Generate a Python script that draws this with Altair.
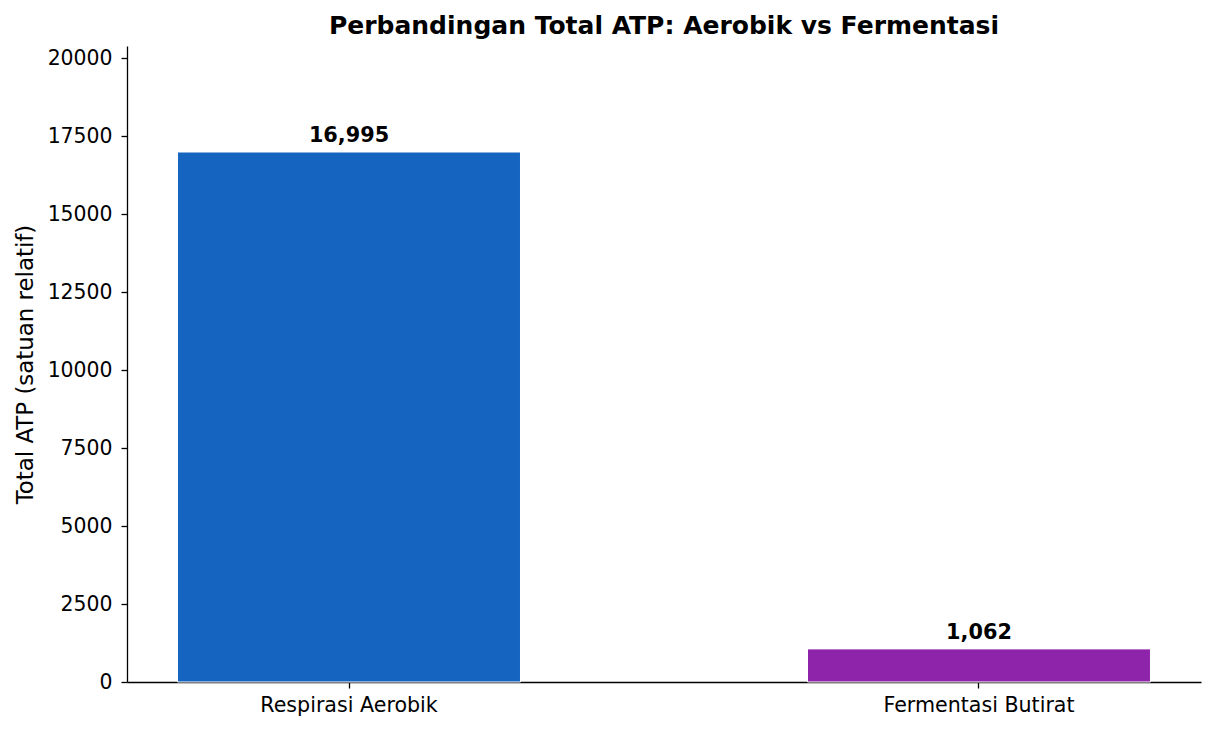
import altair as alt
import pandas as pd

categories = ["Respirasi Aerobik", "Fermentasi Butirat"]
values = [16995, 1062]
colors = ["#1565C0", "#8E24AA"]
y_ticks = [0, 2500, 5000, 7500, 10000, 12500, 15000, 17500, 20000]

df = pd.DataFrame({"cat": categories, "val": values, "color": colors})

FONT = "DejaVu Sans"

x_enc = alt.X(
    "cat:N",
    sort=categories,
    title=None,
    scale=alt.Scale(paddingInner=0.4556, paddingOuter=0.0802),
    axis=alt.Axis(labelAngle=0, labelFontSize=20.6, labelFont=FONT, labelColor="black",
                  labelLimit=0,
                  domainColor="black", domainWidth=1.3, tickColor="black", tickWidth=1.3,
                  tickSize=6, labelPadding=7),
)
y_enc = alt.Y(
    "val:Q",
    title="Total ATP (satuan relatif)",
    scale=alt.Scale(domain=[0, 20394], nice=False, zero=True),
    axis=alt.Axis(values=y_ticks, format="d", labelFontSize=20.4, labelFont=FONT,
                  labelColor="black", titleFontSize=22.9, titleFont=FONT, titleFontWeight="normal",
                  titleColor="black", domainColor="black", domainWidth=1.3, tickColor="black",
                  tickWidth=1.3, tickSize=6, labelPadding=9, titlePadding=10, grid=False),
)

bars = alt.Chart(df).mark_bar(stroke="white", strokeWidth=1).encode(
    x=x_enc,
    y=y_enc,
    color=alt.Color("color:N", scale=None),
)

labels = alt.Chart(df).mark_text(
    font=FONT, fontSize=20.8, fontWeight="bold", baseline="alphabetic", dy=-10, color="black"
).encode(
    x=alt.X("cat:N", sort=categories),
    y=alt.Y("val:Q"),
    text=alt.Text("val:Q", format=",d"),
)

chart = (bars + labels).properties(
    width=1074,
    height=636,
    background="white",
    title=alt.TitleParams(
        "Perbandingan Total ATP: Aerobik vs Fermentasi",
        font=FONT, fontSize=25, fontWeight="bold", color="black", anchor="middle", offset=7,
    ),
    autosize=alt.AutoSizeParams(type="none"),
    padding={"left": 119, "top": 38, "right": 6, "bottom": 42},
).configure_view(strokeWidth=0, stroke=None)

chart.save("out.html", embed_options={"renderer": "svg", "actions": False})
